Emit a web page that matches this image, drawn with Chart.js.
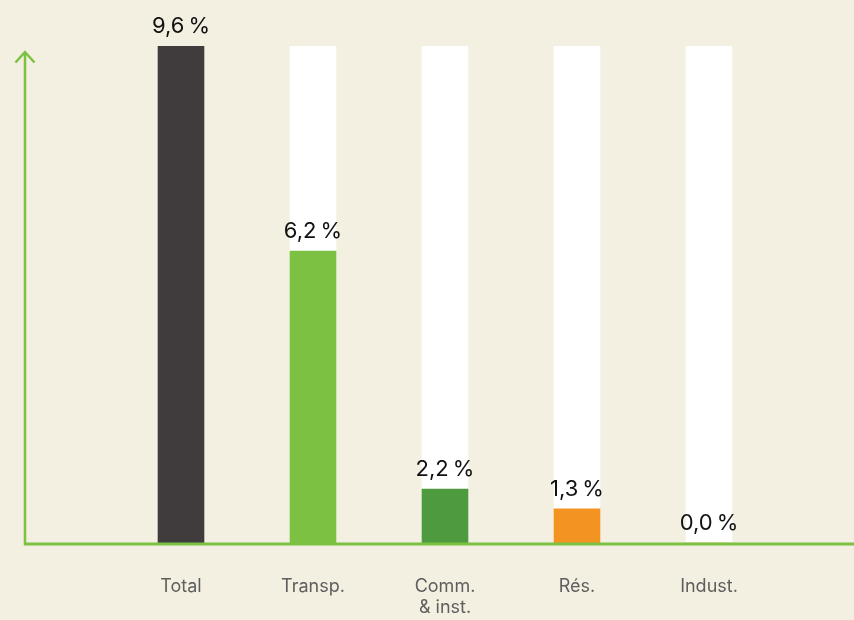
<!DOCTYPE html>
<html>
<head>
<meta charset="utf-8">
<script src="https://cdn.jsdelivr.net/npm/chart.js@4/dist/chart.umd.min.js"></script>
<style>
  html, body { margin: 0; padding: 0; background: #f3efe1; }
  #wrap { width: 854px; height: 620px; position: relative; }
</style>
</head>
<body>
<div id="wrap"><canvas id="chart"></canvas></div>
<script>
// Categories and values
const categories = ['Total', 'Transp.', ['Comm.', '& inst.'], 'Rés.', 'Indust.'];
const valueLabels = ['9,6\u2009%', '6,2\u2009%', '2,2\u2009%', '1,3\u2009%', '0,0\u2009%'];
// Bar heights as drawn (same units as the 9,6 total)
const barHeights = [9.6, 5.64, 1.04, 0.66, 0];
const trackHeights = [9.6, 9.6, 9.6, 9.6, 9.6];
const barColors = ['#403c3d', '#7cc142', '#4e9a3e', '#f39322', '#f39322'];

const axisGreen = '#7cc142';

// Axis arrow, value labels and category labels
const decorations = {
    id: 'decorations',
    afterDatasetsDraw(chart) {
        const { ctx, chartArea, scales } = chart;
        const base = chartArea.bottom;
        ctx.save();

        // axes
        ctx.strokeStyle = axisGreen;
        ctx.lineWidth = 3;
        ctx.lineCap = 'butt';
        ctx.beginPath();
        ctx.moveTo(24, base + 1);
        ctx.lineTo(854, base + 1);
        ctx.stroke();
        ctx.lineWidth = 2.5;
        ctx.beginPath();
        ctx.moveTo(25, base + 2);
        ctx.lineTo(25, 52);
        ctx.moveTo(15.5, 62.5);
        ctx.lineTo(25, 52);
        ctx.lineTo(34.5, 62.5);
        ctx.stroke();

        // value labels above the coloured bars
        const meta = chart.getDatasetMeta(0);
        ctx.fillStyle = '#111111';
        ctx.font = '400 22px Inter, "Open Sans", sans-serif';
        ctx.textAlign = 'center';
        ctx.textBaseline = 'alphabetic';
        meta.data.forEach((bar, i) => {
            ctx.fillText(valueLabels[i], bar.x, bar.y - 13);
        });

        // category labels
        ctx.fillStyle = '#5e5e5e';
        ctx.font = '400 18px Inter, "Open Sans", sans-serif';
        ctx.textBaseline = 'middle';
        categories.forEach((label, i) => {
            const x = scales.x.getPixelForValue(i);
            const lines = Array.isArray(label) ? label : [label];
            lines.forEach((line, j) => {
                ctx.fillText(line, x, 587 + j * 21);
            });
        });
        ctx.restore();
    }
};

new Chart(document.getElementById('chart'), {
    type: 'bar',
    plugins: [decorations],
    data: {
        labels: categories,
        datasets: [
            {
                data: barHeights,
                backgroundColor: barColors,
                borderWidth: 0,
                barThickness: 46,
                grouped: false
            },
            {
                data: trackHeights,
                backgroundColor: '#ffffff',
                borderWidth: 0,
                barThickness: 46,
                grouped: false
            }
        ]
    },
    options: {
        responsive: true,
        maintainAspectRatio: false,
        animation: false,
        layout: { padding: { left: 115, right: 79, top: 46, bottom: 77 } },
        plugins: {
            legend: { display: false },
            tooltip: { enabled: false }
        },
        scales: {
            x: { display: false },
            y: { display: false, min: 0, max: 9.6 }
        }
    }
});
</script>
</body>
</html>
